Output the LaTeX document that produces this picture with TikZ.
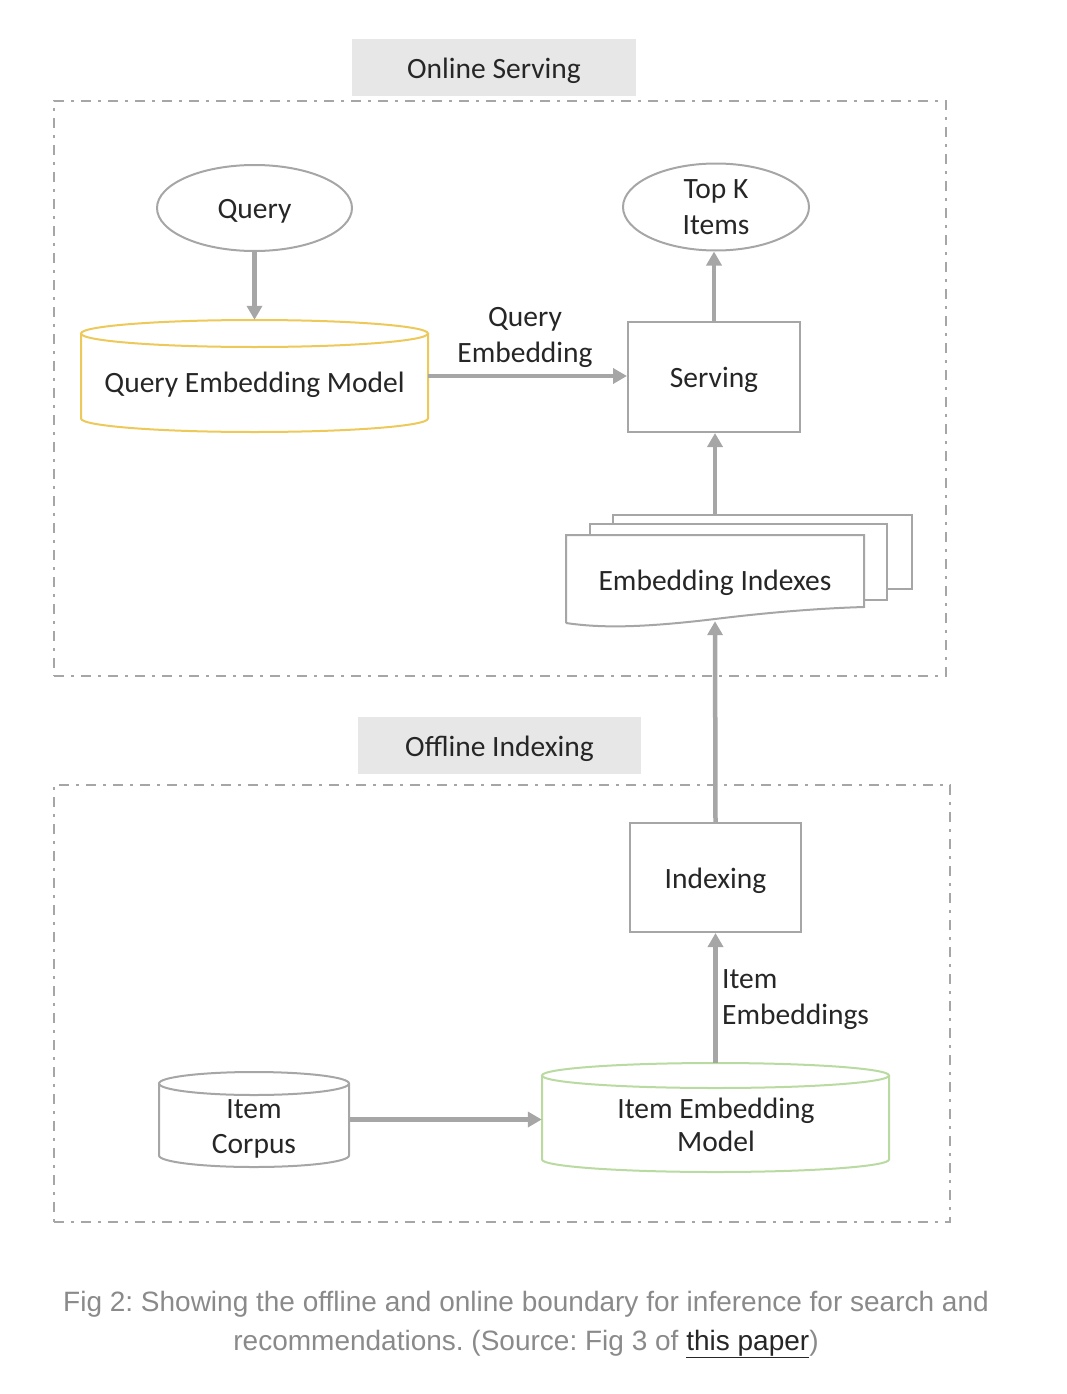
\documentclass[tikz,border=0pt]{standalone}
\usepackage{fontspec}
\setmainfont{Carlito}
\newfontfamily\capfont{Liberation Sans}
\usetikzlibrary{arrows.meta,shapes.geometric}
\definecolor{bord}{HTML}{A6A6A6}
\definecolor{txt}{HTML}{262626}
\definecolor{labgray}{HTML}{E7E7E7}
\definecolor{qemc}{HTML}{EDC95A}
\definecolor{iemc}{HTML}{B9DAA0}
\definecolor{capgray}{HTML}{8A8A8A}
\newcommand\mycyl[6]{%
 \draw[#6, line width=2pt, fill=white] ({(#1+#3)/2},{#2+#5}) ellipse [x radius={(#3-#1)/2}, y radius=#5];
 \draw[#6, line width=2pt] (#1,{#2+#5}) -- (#1,{#4-#5}) .. controls (#1,{#4-#5+0.5523*#5}) and ({(#1+#3)/2-0.5523*(#3-#1)/2},#4) .. ({(#1+#3)/2},#4) .. controls ({(#1+#3)/2+0.5523*(#3-#1)/2},#4) and (#3,{#4-#5+0.5523*#5}) .. (#3,{#4-#5}) -- (#3,{#2+#5});
}
\newcommand\dn[1]{\raisebox{0pt}[\dimexpr\height+6pt\relax][\depth]{#1}}
\begin{document}
\frenchspacing
\begin{tikzpicture}[x=1pt,y=-1pt,
  font=\fontsize{29.5}{36}\selectfont,
  every node/.style={text=txt},
  lab/.style={fill=labgray, draw=none, inner sep=0pt},
  region/.style={draw=bord, line width=2pt, dash pattern=on 10pt off 7pt on 3pt off 7pt, inner sep=0pt},
  ell/.style={ellipse, draw=bord, line width=2pt, inner sep=0pt, align=center},
  boxn/.style={rectangle, draw=bord, line width=2pt, inner sep=0pt, fill=white},
  hold/.style={rectangle, draw=none, inner sep=0pt},
  arr/.style={draw=bord, line width=4.5pt, -{Triangle[length=14pt,width=15pt]}},
  elab/.style={align=center, inner sep=0pt}
]
\useasboundingbox (0,0) rectangle (1066,1394);

% region labels and boxes
\node[lab, minimum width=284, minimum height=57] (onl) at (494,67.5) {\dn{Online Serving}};
\node[region, minimum width=892, minimum height=575] (onbox) at (500,388.5) {};
\node[lab, minimum width=283, minimum height=57] (offl) at (499.5,745.5) {\dn{Offline Indexing}};
\node[region, minimum width=896, minimum height=437] (offbox) at (502,1003.5) {};

% online nodes
\node[ell, minimum width=195, minimum height=86] (query) at (254.5,208) {\dn{Query}};
\mycyl{81}{320}{428}{432}{13.5}{qemc}
\node[hold, minimum width=347, minimum height=112] (qem) at (254.5,376) {};
\node (qemt) at (254.5,385) {Query Embedding Model};
\node[boxn, minimum width=172, minimum height=110] (serv) at (714,377) {\dn{Serving}};
\node[ell, minimum width=186, minimum height=87] (topk) at (716,207) {Top K\\Items};

% embedding indexes (stacked documents)
\draw[bord, line width=2pt, fill=white] (613,589) -- (613,515) -- (912,515) -- (912,589) -- (886,589);
\draw[bord, line width=2pt, fill=white] (590,600) -- (590,524) -- (887,524) -- (887,600) -- (864,600);
\draw[bord, line width=2pt, fill=white] (566,623) -- (566,535) -- (864,535) -- (864,607)
  .. controls (830,608) and (780,611) .. (715,619)
  .. controls (640,628) and (600,628) .. (566,623);
\node[hold, minimum width=298, minimum height=86] (idx) at (715,578) {};
\node (idxt) at (715,583) {Embedding Indexes};

% offline nodes
\node[boxn, minimum width=171, minimum height=109] (ixg) at (715.5,877.5) {\dn{Indexing}};
\mycyl{159}{1072}{349}{1167}{11.5}{bord}
\node[hold, minimum width=190, minimum height=95] (corp) at (254,1119.5) {};
\node[align=center, font=\fontsize{29.5}{35}\selectfont] (corpt) at (254,1129) {Item\\Corpus};
\mycyl{542}{1063}{889}{1172}{12.5}{iemc}
\node[hold, minimum width=347, minimum height=109] (iem) at (715.5,1117.5) {};
\node[align=center, font=\fontsize{29.5}{33}\selectfont] (iemt) at (716,1125) {Item Embedding\\Model};

% connectors
\draw[arr] (query) -- (qem);
\draw[arr] (qem.east) -- (qem.east -| serv.west);
\draw[arr] (serv.north) -- (serv.north |- topk.south);
\draw[arr] ([yshift=20pt]idx.north) -- (idx.north |- serv.south);
\draw[arr] (ixg.north) -- (idx.south);
\draw[arr] (iem.north) -- (ixg.south);
\draw[arr] (corp.east) -- (corp.east -| iem.west);

% edge labels
\node[elab] (qelab) at (525,337) {Query\\Embedding};
\node[elab, anchor=west, align=left] (ielab) at (722,1000) {Item\\Embeddings};

% caption
\node[font=\capfont\fontsize{28}{32}\selectfont, text=capgray, inner sep=0pt] (cap1) at (526,1304) {Fig 2: Showing the offline and online boundary for inference for search and};
\node[font=\capfont\fontsize{28}{32}\selectfont, text=capgray, inner sep=0pt] (cap2) at (526,1344) {recommendations. (Source: Fig 3 of \textcolor{black!85}{\underline{this paper}})};
\end{tikzpicture}
\end{document}
